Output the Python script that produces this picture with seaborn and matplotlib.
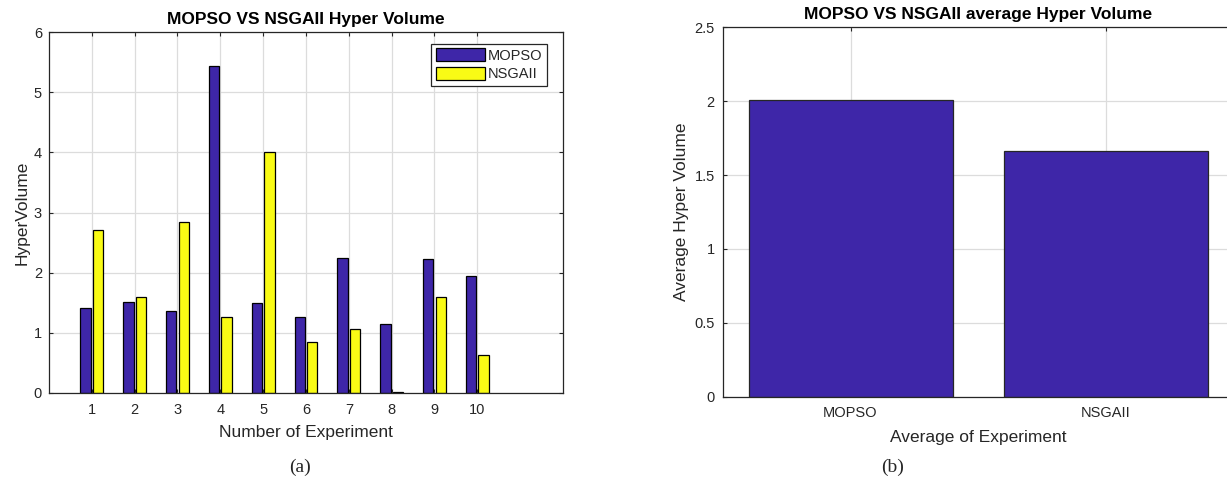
import matplotlib
matplotlib.use("Agg")
import matplotlib.pyplot as plt
import seaborn as sns
import pandas as pd
from matplotlib.patches import Patch

# ---- data ----
experiments = ["1", "2", "3", "4", "5", "6", "7", "8", "9", "10"]
mopso_hv = [1.42, 1.52, 1.37, 5.43, 1.49, 1.26, 2.24, 1.14, 2.22, 1.94]
nsgaii_hv = [2.71, 1.59, 2.85, 1.26, 4.01, 0.84, 1.07, 0.02, 1.59, 0.63]
algorithms = ["MOPSO", "NSGAII"]
avg_hv = [2.01, 1.66]
y_ticks_a = [0, 1, 2, 3, 4, 5, 6]
y_ticks_b = [0, 0.5, 1, 1.5, 2, 2.5]
y_ticklabels_b = ["0", "0.5", "1", "1.5", "2", "2.5"]

# ---- style ----
sns.set_style("white")
plt.rcParams["font.family"] = ["Liberation Sans", "DejaVu Sans"]
DARK = "#262626"
BLUE = "#3E26A8"
YELLOW = "#F9FB15"
GRID = "#DCDCDC"

fig = plt.figure(figsize=(12.27, 4.84), dpi=100)
axA = fig.add_axes([49 / 1227, 1 - 393 / 484, 514 / 1227, 361 / 484])
axB = fig.add_axes([723 / 1227, 1 - 396.7 / 484, 510 / 1227, 369.4 / 484])

def style_axes(ax):
    ax.set_axisbelow(True)
    ax.grid(True, color=GRID, linewidth=0.9)
    for s in ax.spines.values():
        s.set_color(DARK)
        s.set_linewidth(0.9)
        s.set_visible(True)
    ax.tick_params(direction="in", length=3, width=0.8, color=DARK,
                   labelcolor=DARK, labelsize=10.5,
                   top=True, right=True, bottom=True, left=True)

# ---- panel (a) ----
df = pd.DataFrame({
    "Experiment": experiments * 2,
    "HV": mopso_hv + nsgaii_hv,
    "Algorithm": ["MOPSO"] * len(experiments) + ["NSGAII"] * len(experiments),
})
sns.barplot(data=df, x="Experiment", y="HV", hue="Algorithm",
            palette=[BLUE, YELLOW], saturation=1, width=0.58, gap=0.17,
            edgecolor="black", linewidth=0.9, ax=axA, legend=False)
style_axes(axA)
axA.set_xlim(-1, 11)
axA.set_ylim(0, 6)
axA.set_yticks(y_ticks_a)
axA.tick_params(axis="x", pad=7)
axA.tick_params(axis="y", pad=5)
axA.set_xlabel("Number of Experiment", fontsize=12.5, color=DARK, labelpad=6)
axA.set_ylabel("HyperVolume", fontsize=12.5, color=DARK, labelpad=3)
axA.set_title("MOPSO VS NSGAII Hyper Volume", fontsize=12.5, fontweight="bold",
              color="black", pad=6)
handles = [Patch(facecolor=BLUE, edgecolor="black", linewidth=0.9),
           Patch(facecolor=YELLOW, edgecolor="black", linewidth=0.9)]
leg = axA.legend(handles, algorithms, loc="upper right",
                 bbox_to_anchor=(0.969, 0.967), borderaxespad=0,
                 fontsize=10.5, handlelength=3.4, handleheight=0.95,
                 handletextpad=0.2, labelspacing=0.3, borderpad=0.3,
                 fancybox=False, framealpha=1, edgecolor=DARK)
leg.get_frame().set_linewidth(0.9)
for t in leg.get_texts():
    t.set_color(DARK)

# ---- panel (b) ----
dfb = pd.DataFrame({"Algorithm": algorithms, "Avg": avg_hv})
sns.barplot(data=dfb, x="Algorithm", y="Avg", color=BLUE, saturation=1,
            width=0.8, edgecolor=DARK, linewidth=0.9, ax=axB)
style_axes(axB)
axB.set_xlim(-0.5, 1.5)
axB.set_ylim(0, 2.5)
axB.set_yticks(y_ticks_b)
axB.set_yticklabels(y_ticklabels_b)
axB.tick_params(axis="x", pad=7)
axB.tick_params(axis="y", pad=6)
axB.set_xlabel("Average of Experiment", fontsize=12.5, color=DARK, labelpad=7)
axB.set_ylabel("Average Hyper Volume", fontsize=12.5, color=DARK, labelpad=4)
axB.set_title("MOPSO VS NSGAII average Hyper Volume", fontsize=12.5,
              fontweight="bold", color="black", pad=6)

# ---- captions ----
fig.text(300 / 1227, 1 - 467 / 484, "(a)", ha="center", va="center",
         fontsize=14, family="Liberation Serif")
fig.text(893 / 1227, 1 - 467 / 484, "(b)", ha="center", va="center",
         fontsize=14, family="Liberation Serif")

fig.savefig("out.png", dpi=100)
